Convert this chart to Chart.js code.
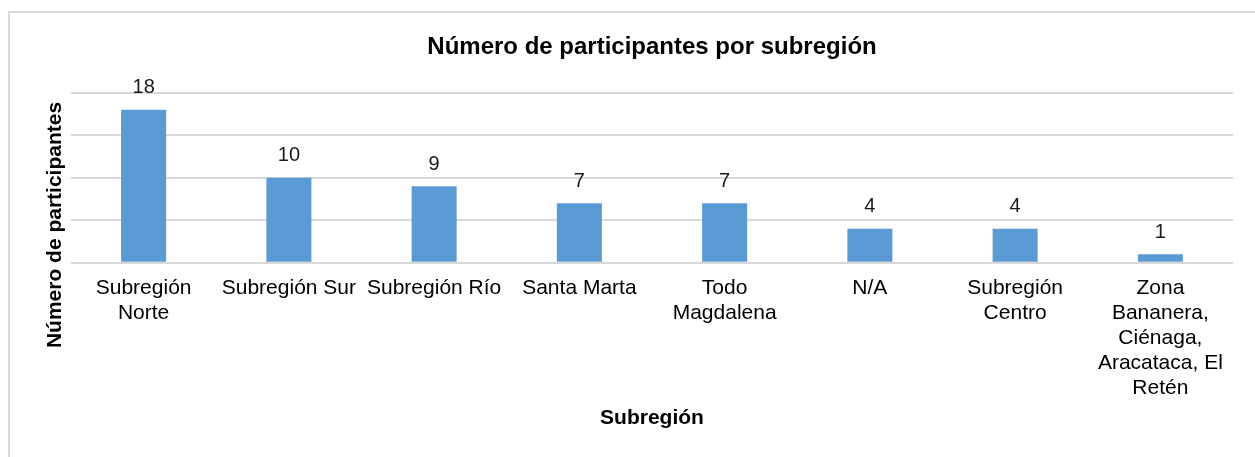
<!DOCTYPE html>
<html>
<head>
<meta charset="utf-8">
<script src="https://cdn.jsdelivr.net/npm/chart.js@4.4.1/dist/chart.umd.min.js"></script>
<style>
  html, body { margin: 0; padding: 0; background: #fff; overflow: hidden; }
  #frame { position: absolute; left: 8px; top: 11px; width: 1270px; height: 470px; border: 2px solid #d9d9d9; box-sizing: border-box; }
  #wrap { position: absolute; left: 0; top: 0; width: 1255px; height: 457px; }
</style>
</head>
<body>
<div id="frame"></div>
<div id="wrap"><canvas id="c"></canvas></div>
<script>
  const categories = [
    ['Subregión', 'Norte'],
    'Subregión Sur',
    'Subregión Río',
    'Santa Marta',
    ['Todo', 'Magdalena'],
    'N/A',
    ['Subregión', 'Centro'],
    ['Zona', 'Bananera,', 'Ciénaga,', 'Aracataca, El', 'Retén'],
  ];
  const participants = [18, 10, 9, 7, 7, 4, 4, 1];

  const FONT = '"Liberation Sans", Arial, sans-serif';
  const GRID = '#d9d9d9';
  const BAR = '#5b9bd5';

  // value labels above each bar
  const valueLabels = {
    id: 'valueLabels',
    afterDatasetsDraw(chart) {
      const ctx = chart.ctx;
      const meta = chart.getDatasetMeta(0);
      ctx.save();
      ctx.font = '20px ' + FONT;
      ctx.fillStyle = '#1a1a1a';
      ctx.textAlign = 'center';
      ctx.textBaseline = 'middle';
      meta.data.forEach((bar, i) => {
        ctx.fillText(String(participants[i]), bar.x, bar.y - 22);
      });
      ctx.restore();
    },
  };

  // y-axis title, centred lower than the plot area as in the original
  const yTitle = {
    id: 'yTitle',
    afterDraw(chart) {
      const ctx = chart.ctx;
      ctx.save();
      ctx.translate(55, 225);
      ctx.rotate(-Math.PI / 2);
      ctx.font = 'bold 21px ' + FONT;
      ctx.fillStyle = '#000';
      ctx.textAlign = 'center';
      ctx.textBaseline = 'middle';
      ctx.fillText('Número de participantes', 0, 0);
      ctx.restore();
    },
  };

  new Chart(document.getElementById('c'), {
    type: 'bar',
    data: {
      labels: categories,
      datasets: [
        {
          label: 'Número de participantes',
          data: participants,
          backgroundColor: BAR,
          barPercentage: 1,
          categoryPercentage: 0.31,
        },
      ],
    },
    options: {
      responsive: true,
      maintainAspectRatio: false,
      animation: false,
      layout: { padding: { left: 71, right: 22, top: 0, bottom: 26 } },
      plugins: {
        legend: { display: false },
        tooltip: { enabled: false },
        title: {
          display: true,
          text: 'Número de participantes por subregión',
          color: '#000',
          font: { family: FONT, size: 24, weight: 'bold' },
          padding: { top: 33, bottom: 31 },
        },
      },
      scales: {
        x: {
          grid: { display: false, drawTicks: false },
          border: { display: false },
          ticks: {
            color: '#000',
            font: { family: FONT, size: 21, lineHeight: '25px' },
            padding: 13,
            maxRotation: 0,
            minRotation: 0,
            autoSkip: false,
          },
          title: {
            display: true,
            text: 'Subregión',
            color: '#000',
            font: { family: FONT, size: 21, weight: 'bold' },
            padding: { top: -8, bottom: 0 },
          },
        },
        y: {
          min: 0,
          max: 20,
          grid: { color: GRID, lineWidth: 2, drawTicks: false },
          border: { display: false },
          ticks: { display: false, stepSize: 5 },
        },
      },
    },
    plugins: [valueLabels, yTitle],
  });
</script>
</body>
</html>
